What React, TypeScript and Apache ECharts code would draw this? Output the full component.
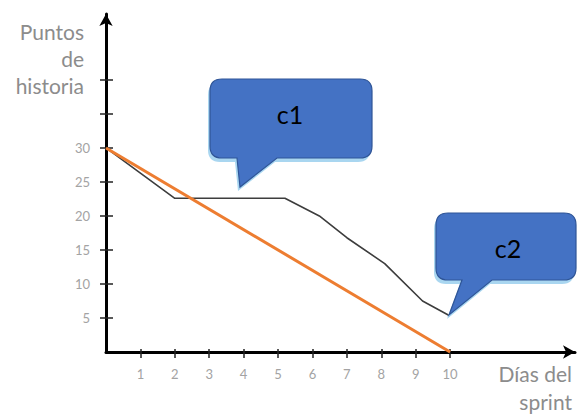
import React, { useEffect, useRef } from "react";
import * as echarts from "echarts";

// ---- data ----
const xTickValues = [1, 2, 3, 4, 5, 6, 7, 8, 9, 10];
const yTickValues = [5, 10, 15, 20, 25, 30, 35, 40];
const yLabelValues = [5, 10, 15, 20, 25, 30];
const idealDays = [0, 10];
const idealPoints = [30, 0];
const actualDays = [0, 1, 2, 5.2, 6.2, 7, 8.1, 9.2, 10];
const actualPoints = [30, 26.3, 22.6, 22.6, 20, 16.8, 13, 7.5, 5.3];
const yTitleLines = ["Puntos", "de", "historia"];
const xTitleLines = ["Días del", "sprint"];
const calloutTexts = ["c1", "c2"];

const CALLOUT1 =
  "M12 0 H150 Q162 0 162 12 V67 Q162 79 150 79 H67 L30 108 L27 79 H12 Q0 79 0 67 V12 Q0 0 12 0 Z";
const CALLOUT2 =
  "M12 0 H128 Q140 0 140 12 V55 Q140 67 128 67 H56 L13 102 L26 67 H12 Q0 67 0 55 V12 Q0 0 12 0 Z";

let registered = false;
function registerShapes() {
  if (registered) return;
  echarts.graphic.registerShape("callout1", echarts.graphic.extendPath(CALLOUT1, {}));
  echarts.graphic.registerShape("callout2", echarts.graphic.extendPath(CALLOUT2, {}));
  registered = true;
}

const FONT = "Lato, 'Noto Sans', sans-serif";
const TITLE_COLOR = "#8c8c8c";
const LABEL_COLOR = "#a3a3a3";

export default function App() {
  const ref = useRef<HTMLDivElement>(null);

  useEffect(() => {
    if (!ref.current) return;
    registerShapes();
    const chart = echarts.init(ref.current, undefined, { renderer: "svg" });

    const gridLeft = 106;
    const gridTop = 14;
    const gridRight = 2;
    const gridBottom = 63;
    const gridW = 577 - gridLeft - gridRight;
    const gridH = 415 - gridTop - gridBottom;
    const xMax = 13.63;
    const yMax = 49.7;

    const tickStyle = { color: "#222", width: 1.5 };

    const calloutGraphic = (
      type: string,
      x: number,
      y: number,
      text: string,
      tx: number,
      ty: number
    ) => [
      {
        type,
        x: x - 2,
        y: y + 4,
        z: 100,
        style: { fill: "#a9d6f0", stroke: "none" },
      },
      {
        type,
        x,
        y,
        z: 101,
        style: { fill: "#4472c4", stroke: "#2f5597", lineWidth: 1.2 },
      },
      {
        type: "text",
        x: tx,
        y: ty,
        z: 102,
        style: {
          text,
          fill: "#000",
          font: `25px ${FONT}`,
          align: "center",
          verticalAlign: "middle",
        },
      },
    ];

    chart.setOption({
      animation: false,
      grid: { left: gridLeft, top: gridTop, right: gridRight, bottom: gridBottom },
      xAxis: [
        {
          type: "value",
          min: 0,
          max: xMax,
          interval: 1,
          position: "bottom",
          axisLine: {
            show: true,
            onZero: false,
            symbol: ["none", "arrow"],
            symbolSize: [10, 12],
            lineStyle: { color: "#000", width: 3 },
          },
          axisTick: { show: true, customValues: xTickValues, length: 6, lineStyle: tickStyle },
          axisLabel: {
            customValues: xTickValues,
            margin: 15,
            color: LABEL_COLOR,
            fontSize: 13,
            fontFamily: FONT,
          },
          splitLine: { show: false },
        },
        {
          type: "value",
          min: 0,
          max: xMax,
          interval: 1,
          position: "top",
          offset: -gridH,
          axisLine: { show: false, onZero: false },
          axisTick: { show: true, customValues: xTickValues, length: 3, lineStyle: tickStyle },
          axisLabel: { show: false },
          splitLine: { show: false },
        },
      ],
      yAxis: [
        {
          type: "value",
          min: 0,
          max: yMax,
          interval: 5,
          position: "left",
          axisLine: {
            show: true,
            onZero: false,
            symbol: ["none", "arrow"],
            symbolSize: [10, 12],
            lineStyle: { color: "#000", width: 3 },
          },
          axisTick: { show: true, customValues: yTickValues, length: 6, lineStyle: tickStyle },
          axisLabel: {
            customValues: yLabelValues,
            margin: 16,
            color: LABEL_COLOR,
            fontSize: 13,
            fontFamily: FONT,
          },
          splitLine: { show: false },
        },
        {
          type: "value",
          min: 0,
          max: yMax,
          interval: 5,
          position: "right",
          offset: -gridW,
          axisLine: { show: false, onZero: false },
          axisTick: { show: true, customValues: yTickValues, length: 7, lineStyle: tickStyle },
          axisLabel: { show: false },
          splitLine: { show: false },
        },
      ],
      series: [
        {
          name: "real",
          type: "line",
          xAxisIndex: 0,
          yAxisIndex: 0,
          data: actualDays.map((d, i) => [d, actualPoints[i]]),
          showSymbol: false,
          lineStyle: { color: "#3d3d3d", width: 1.6 },
          itemStyle: { color: "#3d3d3d" },
          z: 3,
        },
        {
          name: "ideal",
          type: "line",
          xAxisIndex: 0,
          yAxisIndex: 0,
          data: idealDays.map((d, i) => [d, idealPoints[i]]),
          showSymbol: false,
          lineStyle: { color: "#ed7d31", width: 3 },
          itemStyle: { color: "#ed7d31" },
          z: 4,
        },
      ],
      graphic: [
        ...yTitleLines.map((t, i) => ({
          type: "text",
          x: 84,
          y: 31 + i * 27,
          style: {
            text: t,
            fill: TITLE_COLOR,
            font: `21px ${FONT}`,
            align: "right",
            verticalAlign: "middle",
          },
        })),
        ...xTitleLines.map((t, i) => ({
          type: "text",
          x: 572,
          y: 373 + i * 28,
          style: {
            text: t,
            fill: TITLE_COLOR,
            font: `21px ${FONT}`,
            align: "right",
            verticalAlign: "middle",
          },
        })),
        ...calloutGraphic("callout1", 210, 79, calloutTexts[0], 290, 114),
        ...calloutGraphic("callout2", 436, 213, calloutTexts[1], 508, 248),
      ],
    });

    return () => chart.dispose();
  }, []);

  return (
    <div
      ref={ref}
      style={{ position: "absolute", left: 0, top: 0, width: 577, height: 415, background: "#fff" }}
    />
  );
}
